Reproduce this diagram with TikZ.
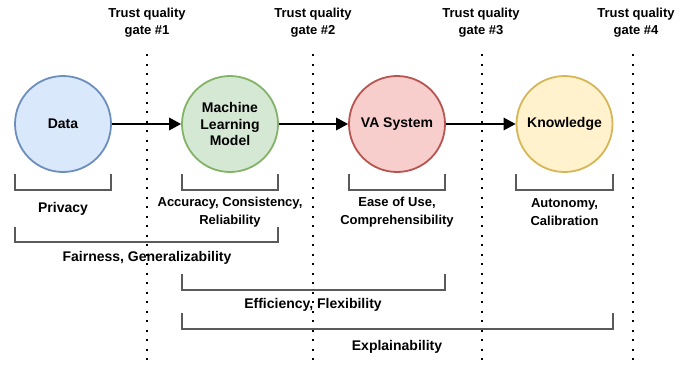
\documentclass[tikz,border=0pt]{standalone}
\usepackage{fontspec}
\setmainfont{Liberation Sans}
\usetikzlibrary{arrows.meta}
\definecolor{blueFill}{HTML}{DAE8FC}\definecolor{blueLine}{HTML}{6C8EBF}
\definecolor{greenFill}{HTML}{D5E8D4}\definecolor{greenLine}{HTML}{82B366}
\definecolor{redFill}{HTML}{F8CECC}\definecolor{redLine}{HTML}{B85450}
\definecolor{yellowFill}{HTML}{FFF2CC}\definecolor{yellowLine}{HTML}{D6B656}
\definecolor{bracketGray}{HTML}{5A5A5A}
\begin{document}
\begin{tikzpicture}[x=1pt,y=-1pt,
  every node/.style={font=\fontsize{14}{16.7}\selectfont\bfseries, align=center, inner sep=0pt},
  small/.style={font=\fontsize{13}{17.3}\selectfont\bfseries},
  stage/.style={circle, draw, line width=1.8pt, minimum size=96pt, inner sep=0pt},
  flow/.style={line width=1.8pt, -{Triangle[length=12pt,width=12.5pt]}},
  gateline/.style={line width=2.2pt, dash pattern=on 2.2pt off 7.3pt},
  bracket/.style={draw=bracketGray, line width=1.8pt}]
\useasboundingbox (0,0) rectangle (688,367);

% quality gates
\foreach \g/\x in {1/147,2/313,3/482,4/633}{
  \coordinate (gt\g) at (\x,54);
  \coordinate (gb\g) at (\x,362);
  \draw[gateline] (gt\g) -- (gb\g);
}
\node[small] (lg1) at (147,23) {Trust quality\\gate \#1};
\node[small] (lg2) at (313,23) {Trust quality\\gate \#2};
\node[small] (lg3) at (481,23) {Trust quality\\gate \#3};
\node[small] (lg4) at (636,23) {Trust quality\\gate \#4};

% pipeline stages
\node[stage, fill=blueFill, draw=blueLine] (data) at (63,124) {Data};
\node[stage, fill=greenFill, draw=greenLine] (ml) at (230,124) {Machine\\Learning\\Model};
\node[stage, fill=redFill, draw=redLine] (va) at (397,124) {VA System};
\node[stage, fill=yellowFill, draw=yellowLine] (kn) at (564.5,124) {Knowledge};

\draw[flow] (data) -- (ml);
\draw[flow] (ml) -- (va);
\draw[flow] (va) -- (kn);

% per-stage brackets
\draw[bracket] (15,174) -- (15,190) -- (111,190) -- (111,174);
\draw[bracket] (182,174) -- (182,190) -- (278,190) -- (278,174);
\draw[bracket] (349,174) -- (349,190) -- (445,190) -- (445,174);
\draw[bracket] (516,174) -- (516,190) -- (613,190) -- (613,174);
\node (p1) at (63,208.5) {Privacy};
\node[small] (p2) at (230,212) {Accuracy, Consistency,\\Reliability};
\node[small] (p3) at (397,212) {Ease of Use,\\Comprehensibility};
\node[small] (p4) at (564.5,212) {Autonomy,\\Calibration};

% brackets spanning several stages
\draw[bracket] (15,227) -- (15,242) -- (278,242) -- (278,227);
\node (s1) at (147,258) {Fairness, Generalizability};
\draw[bracket] (182,274) -- (182,290) -- (445,290) -- (445,274);
\node (s2) at (313,305) {Efficiency, Flexibility};
\draw[bracket] (182,313) -- (182,329) -- (613,329) -- (613,313);
\node (s3) at (397,346.5) {Explainability};
\end{tikzpicture}
\end{document}
